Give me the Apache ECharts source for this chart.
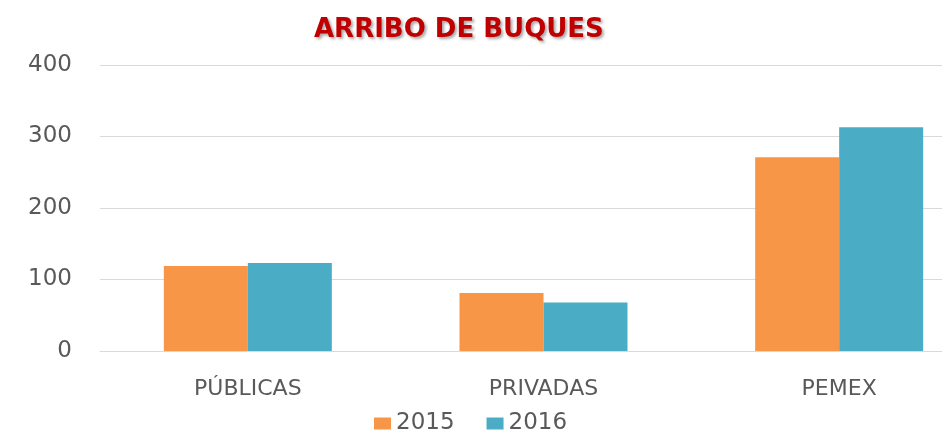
<!DOCTYPE html>
<html>
<head>
<meta charset="utf-8">
<script src="https://cdn.jsdelivr.net/npm/echarts@6/dist/echarts.min.js"></script>
<style>
  html, body { margin: 0; padding: 0; background: #fff; }
  #chart { width: 942px; height: 432px; }
</style>
</head>
<body>
<div id="chart"></div>
<script>
// data
const categories = ['PÚBLICAS', 'PRIVADAS', 'PEMEX'];
const values2015 = [119, 81, 271];
const values2016 = [123, 68, 313];

const FONT = 'DejaVu Sans';
const TEXT = '#595959';
const GRID_LINE = '#D9D9D9';

const chart = echarts.init(document.getElementById('chart'));

chart.setOption({
  backgroundColor: '#fff',
  animation: false,
  textStyle: { fontFamily: FONT },

  title: {
    text: 'ARRIBO DE BUQUES',
    left: 309,
    top: 12,
    textStyle: {
      fontFamily: FONT,
      fontSize: 26,
      fontWeight: 'bold',
      color: '#C00000',
      textShadowColor: 'rgba(0,0,0,0.35)',
      textShadowBlur: 3,
      textShadowOffsetX: 2,
      textShadowOffsetY: 2,
    },
  },

  legend: {
    left: 369,
    top: 407,
    itemWidth: 17,
    itemHeight: 12,
    itemGap: 32,
    icon: 'rect',
    textStyle: { fontFamily: FONT, fontSize: 23, color: TEXT },
    data: ['2015', '2016'],
  },

  // the plot runs past the right edge of the picture (cropped reference)
  grid: { left: 100, top: 65, width: 887, height: 286, outerBoundsMode: 'none' },

  xAxis: {
    type: 'category',
    data: categories,
    axisLine: { lineStyle: { color: GRID_LINE, width: 1 } },
    axisTick: { show: false },
    axisLabel: { color: TEXT, fontSize: 22, fontFamily: FONT, margin: 27 },
  },

  yAxis: {
    type: 'value',
    min: 0,
    max: 400,
    interval: 100,
    axisLine: { show: false },
    axisTick: { show: false },
    splitLine: { lineStyle: { color: GRID_LINE, width: 1 } },
    axisLabel: { color: TEXT, fontSize: 23, fontFamily: FONT, margin: 28 },
  },

  series: [
    {
      name: '2015',
      type: 'bar',
      data: values2015,
      barWidth: 84,
      barGap: '0%',
      itemStyle: { color: '#F79646' },
    },
    {
      name: '2016',
      type: 'bar',
      data: values2016,
      barWidth: 84,
      barGap: '0%',
      itemStyle: { color: '#4BACC6' },
    },
  ],
});
</script>
</body>
</html>
